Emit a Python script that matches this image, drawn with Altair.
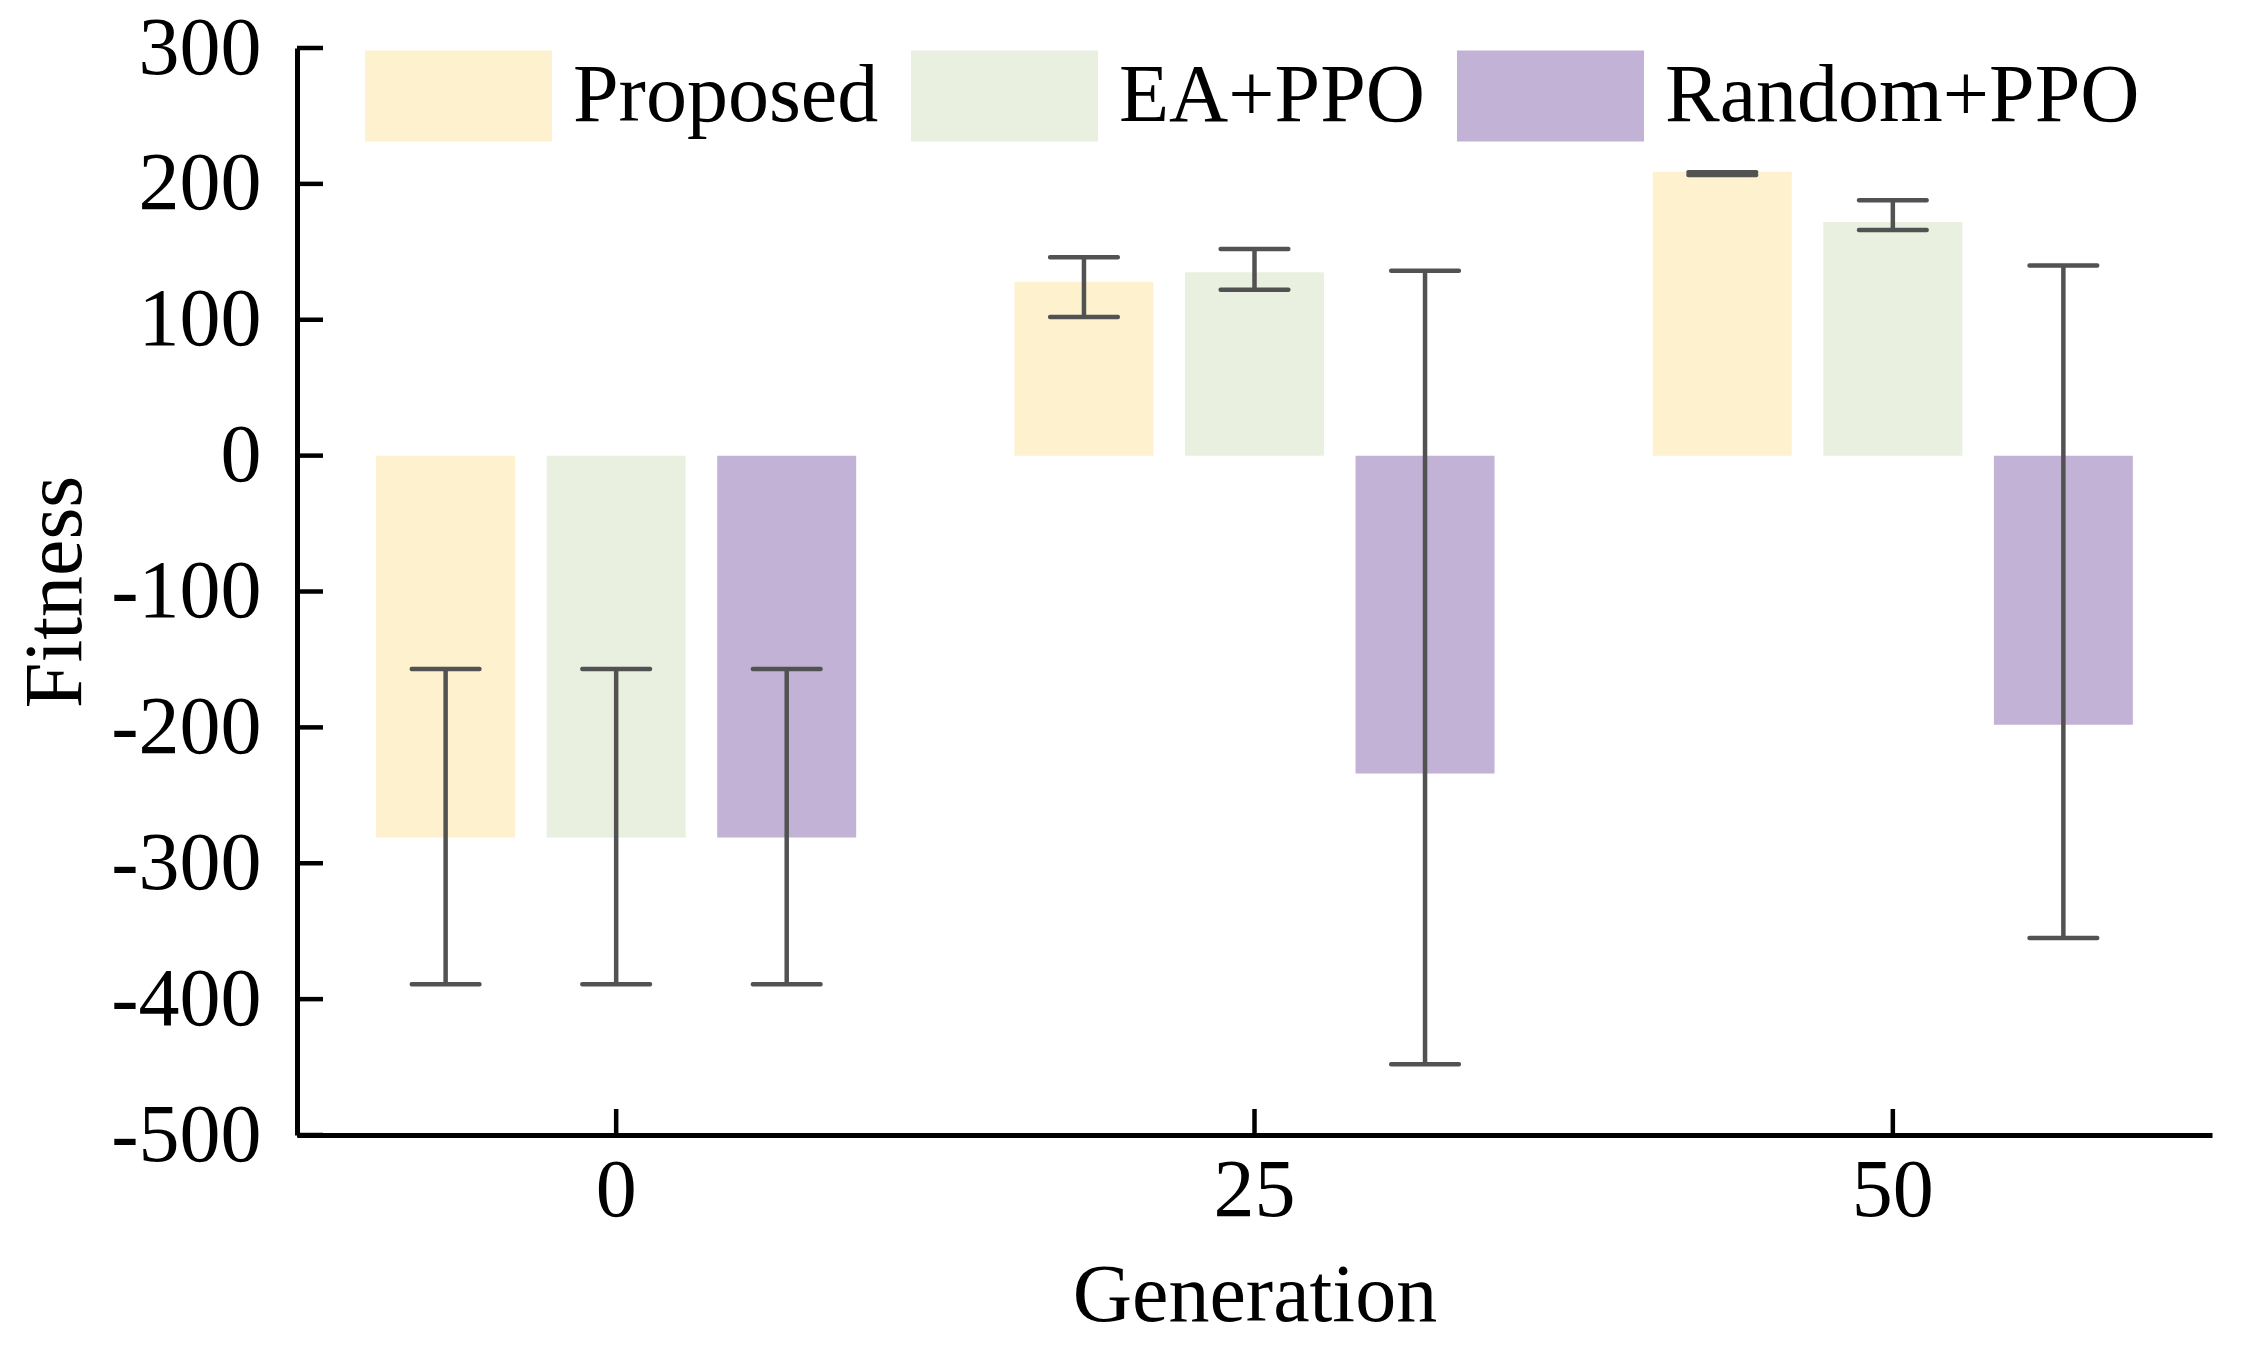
import altair as alt
import pandas as pd

generations = ["0", "25", "50"]
methods = ["Proposed", "EA+PPO", "Random+PPO"]
colors = ["#FEF1CE", "#E9F0DF", "#C2B2D5"]

mean_proposed = [-281, 128, 209]
mean_ea = [-281, 135, 172]
mean_random = [-281, -234, -198]

low_proposed = [-389, 102, 206.5]
low_ea = [-389, 122, 166]
low_random = [-389, -448, -355]

high_proposed = [-157, 146, 208.5]
high_ea = [-157, 152, 188]
high_random = [-157, 136, 140]

y_ticks = [-500, -400, -300, -200, -100, 0, 100, 200, 300]

means = [mean_proposed, mean_ea, mean_random]
lows = [low_proposed, low_ea, low_random]
highs = [high_proposed, high_ea, high_random]

rows = []
for j, m in enumerate(methods):
    for i, g in enumerate(generations):
        rows.append({"gen": g, "method": m, "mean": means[j][i],
                     "low": lows[j][i], "high": highs[j][i]})
df = pd.DataFrame(rows)
tick_df = pd.DataFrame({"v": y_ticks})
gen_df = pd.DataFrame({"gen": generations})

W, H = 1915, 1087
FONT = "Liberation Serif"
FS = 82
ERR = "#525252"

y_scale = alt.Scale(domain=[-500, 300], nice=False, zero=False)
x_scale = alt.Scale(paddingInner=0, paddingOuter=0)
off_scale = alt.Scale(paddingInner=0.185, paddingOuter=0.464)

x_axis = alt.Axis(labelAngle=0, labelPadding=15, ticks=False, tickSize=0, grid=False,
                  title="Generation", titleX=W / 2, titleY=120,
                  titleBaseline="top", titleAlign="center")
y_axis = alt.Axis(values=y_ticks, labelPadding=36, ticks=False, tickSize=0, grid=False,
                  labelExpr="'' + datum.value",
                  title="Fitness", titleX=-281.5, titleY=H / 2, titleAngle=270,
                  titleBaseline="top", titleAlign="center")

X = alt.X("gen:N", sort=generations, scale=x_scale, axis=x_axis, title="Generation")
XO = alt.XOffset("method:N", sort=methods, scale=off_scale)


def Y(field):
    return alt.Y(field, scale=y_scale, axis=y_axis, title="Fitness")


base = alt.Chart(df)

bars = base.mark_bar().encode(
    x=X, xOffset=XO, y=Y("mean:Q"),
    color=alt.Color("method:N", sort=methods,
                    scale=alt.Scale(domain=methods, range=colors),
                    legend=alt.Legend(title=None, orient="none", legendX=68, legendY=-46,
                                      direction="horizontal", columns=3,
                                      symbolType="M-1,-0.487H1V0.487H-1Z",
                                      symbolSize=34969, symbolStrokeWidth=0,
                                      symbolOpacity=1,
                                      labelFont=FONT, labelFontSize=FS,
                                      labelColor="black", labelOffset=21,
                                      columnPadding=32, padding=0,
                                      labelLimit=0)),
)

err = base.mark_rule(color=ERR, strokeWidth=4.5).encode(
    x=X, xOffset=XO, y=Y("low:Q"), y2="high:Q")

cap_low = base.mark_tick(color=ERR, size=72, thickness=4.5, cornerRadius=2, opacity=1).encode(
    x=X, xOffset=XO, y=Y("low:Q"))
cap_high = base.mark_tick(color=ERR, size=72, thickness=4.5, cornerRadius=2, opacity=1).encode(
    x=X, xOffset=XO, y=Y("high:Q"))

ytick_rules = alt.Chart(tick_df).mark_rule(color="black", strokeWidth=4.5).encode(
    y=Y("v:Q"), x=alt.value(0), x2=alt.value(26))

xtick_rules = alt.Chart(gen_df).mark_rule(color="black", strokeWidth=4.5).encode(
    x=X, y=alt.value(H), y2=alt.value(H - 26))

chart = alt.layer(bars, err, cap_low, cap_high, ytick_rules, xtick_rules).properties(
    width=W, height=H,
    background="white",
    autosize=alt.AutoSizeParams(type="none"),
    padding={"left": 289, "top": 40, "right": 21, "bottom": 210},
).configure_view(stroke=None).configure_axis(
    labelFont=FONT, labelFontSize=FS, labelColor="black",
    titleFont=FONT, titleFontSize=FS, titleFontWeight="normal", titleColor="black",
    domainColor="black", domainWidth=5, grid=False,
)

chart.save("out.html", embed_options={"renderer": "svg", "actions": False})
